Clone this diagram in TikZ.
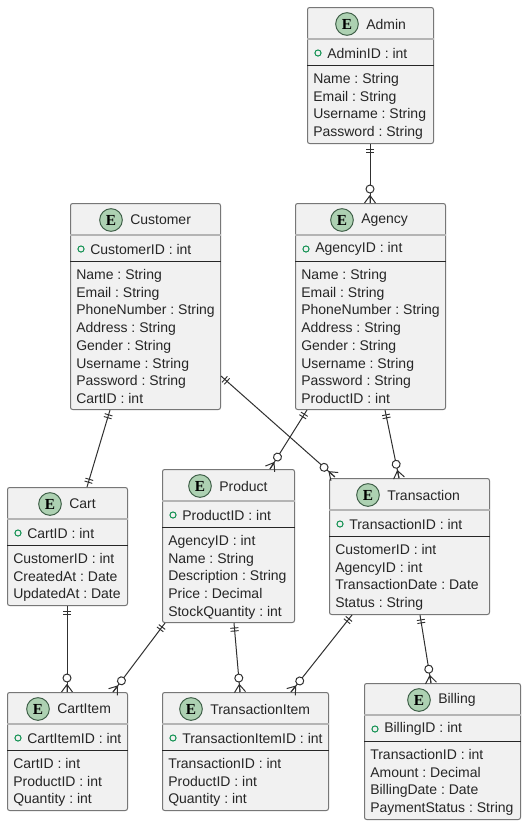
\documentclass[tikz,border=0pt]{standalone}
\usepackage{fontspec}
\setmainfont{Liberation Sans}
\newfontfamily\badgefont{Liberation Serif}
\frenchspacing
\usetikzlibrary{calc,decorations.markings}
\definecolor{boxfill}{HTML}{F1F1F1}
\definecolor{boxline}{HTML}{777777}
\definecolor{headline}{HTML}{B4B4B4}
\definecolor{badge}{HTML}{ADD1B2}
\definecolor{badgeline}{HTML}{3F5F48}
\definecolor{idgreen}{HTML}{109050}
\definecolor{ink}{HTML}{303030}
\tikzset{
  x=.75pt,y=-.75pt,
  box/.style={draw=boxline,fill=boxfill,line width=.75pt,rounded corners=1.6pt,inner sep=0pt,anchor=north west},
  badgecirc/.style={circle,draw=badgeline,fill=badge,line width=.75pt,minimum size=17pt,inner sep=0pt,font=\badgefont\bfseries\fontsize{11.5pt}{12pt}\selectfont},
  titletext/.style={anchor=west,inner sep=0pt,text=black!85,font=\fontsize{10.5pt}{12pt}\selectfont},
  attr/.style={anchor=north west,inner sep=0pt,align=left,text=black!85,font=\fontsize{10.5pt}{13.3pt}\selectfont},
  idmark/.style={circle,draw=idgreen,line width=.75pt,minimum size=4.6pt,inner sep=0pt},
  erbase/.style={draw=ink,line width=.75pt,postaction={decorate}},
  erlink/.style={erbase,decoration={markings,
    mark=at position 3.75pt with {\draw[ink,line width=.7pt] (0,-4)--(0,4);},
    mark=at position 6pt with {\draw[ink,line width=.7pt] (0,-4)--(0,4);},
    mark=at position -10.5pt with {\draw[ink,line width=.75pt,fill=white] (0,0) circle (4);},
    mark=at position -5.6pt with {\draw[ink,line width=.75pt] (0,0)--(7.5,-5.5) (0,0)--(7.5,5.5) (0,0)--(7.5,0);}
  }},
  eronly/.style={erbase,decoration={markings,
    mark=at position 3.75pt with {\draw[ink,line width=.7pt] (0,-4)--(0,4);},
    mark=at position 6pt with {\draw[ink,line width=.7pt] (0,-4)--(0,4);},
    mark=at position -6pt with {\draw[ink,line width=.7pt] (0,-4)--(0,4);},
    mark=at position -3.75pt with {\draw[ink,line width=.7pt] (0,-4)--(0,4);}
  }}
}
% #1 name, #2 x, #3 y, #4 w, #5 h, #6 badge centre x, #7 title, #8 id row, #9 rows
\newcommand{\entity}[9]{
  \node[box,minimum width=#4*.75pt,minimum height=#5*.75pt] (#1) at (#2,#3) {};
  \draw[headline,line width=1.5pt] ($(#1.north west)+(0,32)$) -- ($(#1.north east)+(0,32)$);
  \draw[black!85,line width=.75pt] ($(#1.north west)+(0,58)$) -- ($(#1.north east)+(0,58)$);
  \node[badgecirc] (#1-badge) at (#6,#3+17) {E};
  \node[titletext] (#1-title) at (#6+19,#3+17) {#7};
  \node[idmark] (#1-mark) at (#2+11,#3+46) {};
  \node[anchor=west,inner sep=0pt,text=black!85,font=\fontsize{10.5pt}{12pt}\selectfont] (#1-id) at (#2+20,#3+46) {#8};
  \node[attr] (#1-rows) at (#2+6,#3+66) {#9};
}
\begin{document}
\begin{tikzpicture}
\useasboundingbox (0,0) rectangle (527,826);
\fill[white] (0,0) rectangle (527,826);
\entity{Admin}{307}{7}{126}{136}{347}{Admin}{AdminID : int}{Name : String\\Email : String\\Username : String\\Password : String}
\entity{Agency}{295}{203}{150}{206}{342}{Agency}{AgencyID : int}{Name : String\\Email : String\\PhoneNumber : String\\Address : String\\Gender : String\\Username : String\\Password : String\\ProductID : int}
\entity{Customer}{70}{203}{150}{206}{111}{Customer}{CustomerID : int}{Name : String\\Email : String\\PhoneNumber : String\\Address : String\\Gender : String\\Username : String\\Password : String\\CartID : int}
\entity{Cart}{7}{487}{120}{118}{50}{Cart}{CartID : int}{CustomerID : int\\CreatedAt : Date\\UpdatedAt : Date}
\entity{Product}{162}{469}{132}{153}{200}{Product}{ProductID : int}{AgencyID : int\\Name : String\\Description : String\\Price : Decimal\\StockQuantity : int}
\entity{Transaction}{329}{478}{160}{136}{368}{Transaction}{TransactionID : int}{CustomerID : int\\AgencyID : int\\TransactionDate : Date\\Status : String}
\entity{CartItem}{7}{692}{120}{118}{38}{CartItem}{CartItemID : int}{CartID : int\\ProductID : int\\Quantity : int}
\entity{TransactionItem}{162}{692}{166}{118}{191}{TransactionItem}{TransactionItemID : int}{TransactionID : int\\ProductID : int\\Quantity : int}
\entity{Billing}{364}{683}{156}{136}{419}{Billing}{BillingID : int}{TransactionID : int\\Amount : Decimal\\BillingDate : Date\\PaymentStatus : String}
\draw[erlink] ($(Admin.south west)+(63,0)$) -- ($(Agency.north west)+(75,0)$);
\draw[eronly] ($(Customer.south west)+(40,0)$) -- ($(Cart.north west)+(80,0)$);
\draw[erlink] ($(Customer.north east)+(0,173)$) -- ($(Transaction.north west)+(6,-1)$);
\draw[erlink] ($(Agency.south west)+(12,0)$) -- ($(Product.north west)+(108,0)$);
\draw[erlink] ($(Agency.south west)+(90,0)$) -- ($(Transaction.north west)+(70,0)$);
\draw[erlink] ($(Cart.south west)+(60,0)$) -- ($(CartItem.north west)+(60,0)$);
\draw[erlink] ($(Product.south west)+(3,0)$) -- ($(CartItem.north west)+(106,0)$);
\draw[erlink] ($(Product.south west)+(72,0)$) -- ($(TransactionItem.north west)+(78,0)$);
\draw[erlink] ($(Transaction.south west)+(23,0)$) -- ($(TransactionItem.north west)+(129,0)$);
\draw[erlink] ($(Transaction.south west)+(91,0)$) -- ($(Billing.north west)+(67,0)$);
\end{tikzpicture}
\end{document}
